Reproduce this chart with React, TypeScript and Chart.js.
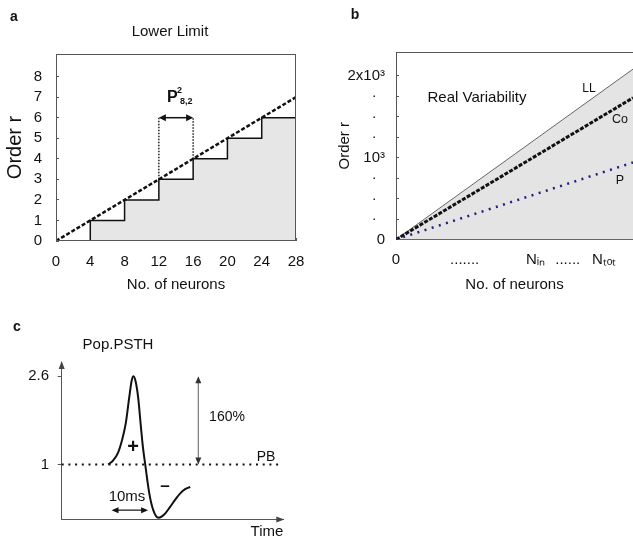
import React, { useEffect, useRef } from 'react';
import { Chart, registerables } from 'chart.js';

Chart.register(...registerables);

const FONT = "'Liberation Sans', Arial, Helvetica, sans-serif";
Chart.defaults.font.family = FONT;
Chart.defaults.color = '#111';

// ---------- Panel a : Lower Limit ----------
const aStepX = [0, 4, 8, 12, 16, 20, 24, 28];
const aStepY = [0, 1, 2, 3, 4, 5, 6, 6];
const aLimitX = [0, 28];
const aLimitY = [0, 7];
const aGuideX = [12, 16];
const aGuideFrom = [3, 4];
const aGuideTo = [6, 6];
const aArrowX = [12, 16];
const aArrowY = 6;
const aYTicks = [0, 1, 2, 3, 4, 5, 6, 7, 8];

// ---------- Panel b : Real Variability ----------
const bX = [0, 6.9];
const bLL = [0, 2080];
const bCo = [0, 1730];
const bP = [0, 940];
const bYTicks = [0, 250, 500, 750, 1000, 1250, 1500, 1750, 2000];
const bYLabels = ['0', '·  ', '·  ', '·  ', '10³', '·  ', '·  ', '·  ', '2x10³'];
const bXTicks = [0, 1, 2, 3, 4, 5, 6];
const bXLabels = ['0', '', '.......', '', ' Nᵢₙ', '......', ' Nₜₒₜ'];

// ---------- Panel c : Pop.PSTH ----------
const cTime = [12.7, 14, 15.3, 16.5, 17.5, 18.5, 19.1, 19.6, 20.2, 20.9, 21.6, 22.2, 22.8, 23.9, 25, 26.4, 28, 29.6, 31, 32.3, 33.7, 35.1];
const cPsth = [1.0, 1.07, 1.2, 1.45, 1.75, 2.25, 2.52, 2.6, 2.5, 2.2, 1.7, 1.3, 1.0, 0.48, 0.17, 0.03, 0.09, 0.23, 0.36, 0.47, 0.55, 0.59];
const cBaselineT = [0, 59.1];
const cBaselineV = [1, 1];
const cYTicks = [1, 2.6];
const cYLabels = ['1', '2.6'];
const cWidthArrowT = [13.6, 23.6];
const cWidthArrowV = 0.17;
const cAmpArrowT = 37.3;
const cAmpArrowV = [1.0, 2.6];

const pts = (xs: number[], ys: number[]) => xs.map((x, i) => ({ x, y: ys[i] }));

function text(ctx: CanvasRenderingContext2D, s: string, x: number, y: number, size: number, opts: { bold?: boolean; align?: CanvasTextAlign; color?: string } = {}) {
  ctx.font = `${opts.bold ? 'bold ' : ''}${size}px ${FONT}`;
  ctx.textAlign = opts.align || 'center';
  ctx.textBaseline = 'middle';
  ctx.fillStyle = opts.color || '#111';
  ctx.fillText(s, x, y);
}

function head(ctx: CanvasRenderingContext2D, x: number, y: number, angle: number, color: string, len = 7, half = 3) {
  ctx.save();
  ctx.translate(x, y);
  ctx.rotate(angle);
  ctx.fillStyle = color;
  ctx.beginPath();
  ctx.moveTo(0, 0);
  ctx.lineTo(-len, -half);
  ctx.lineTo(-len, half);
  ctx.closePath();
  ctx.fill();
  ctx.restore();
}

const panelAPlugin = {
  id: 'panelA',
  afterDatasetsDraw(chart: any) {
    const { ctx, chartArea: ca, scales } = chart;
    const x = scales.x, y = scales.y;
    ctx.save();
    ctx.strokeStyle = '#555';
    ctx.lineWidth = 1;
    ctx.strokeRect(ca.left + 0.5, ca.top + 0.5, ca.right - ca.left - 1, ca.bottom - ca.top - 1);
    const x1 = x.getPixelForValue(aArrowX[0]);
    const x2 = x.getPixelForValue(aArrowX[1]);
    const yy = y.getPixelForValue(aArrowY);
    ctx.strokeStyle = '#111';
    ctx.lineWidth = 1.5;
    ctx.beginPath();
    ctx.moveTo(x1 + 3, yy);
    ctx.lineTo(x2 - 3, yy);
    ctx.stroke();
    head(ctx, x1, yy, Math.PI, '#111', 7, 3.5);
    head(ctx, x2, yy, 0, '#111', 7, 3.5);
    ctx.restore();
  },
  afterDraw(chart: any) {
    const { ctx } = chart;
    ctx.save();
    text(ctx, 'a', 14, 17, 14, { bold: true });
    text(ctx, 'Lower Limit', 170, 32, 15);
    text(ctx, 'P', 167, 98, 16, { bold: true, align: 'left' });
    text(ctx, '2', 177, 91, 9, { bold: true, align: 'left' });
    text(ctx, '8,2', 180, 102, 9, { bold: true, align: 'left' });
    ctx.restore();
  },
};

const panelBPlugin = {
  id: 'panelB',
  afterDatasetsDraw(chart: any) {
    const { ctx, chartArea: ca } = chart;
    ctx.save();
    ctx.strokeStyle = '#555';
    ctx.lineWidth = 1;
    ctx.beginPath();
    ctx.moveTo(ca.left, ca.top + 0.5);
    ctx.lineTo(ca.right, ca.top + 0.5);
    ctx.stroke();
    ctx.restore();
  },
  afterDraw(chart: any) {
    const { ctx } = chart;
    ctx.save();
    text(ctx, 'b', 35, 15, 14, { bold: true });
    text(ctx, 'Real Variability', 157, 98, 15);
    text(ctx, 'LL', 269, 89, 12);
    text(ctx, 'Co', 300, 120, 12.5);
    text(ctx, 'P', 300, 181, 12.5);
    ctx.restore();
  },
};

const panelCPlugin = {
  id: 'panelC',
  afterDatasetsDraw(chart: any) {
    const { ctx, chartArea: ca, scales } = chart;
    const x = scales.x, y = scales.y;
    ctx.save();
    head(ctx, ca.left, ca.top - 1, -Math.PI / 2, '#444', 8, 3);
    head(ctx, ca.right + 1, ca.bottom, 0, '#444', 8, 3);
    // 10 ms arrow
    const t1 = x.getPixelForValue(cWidthArrowT[0]);
    const t2 = x.getPixelForValue(cWidthArrowT[1]);
    const wy = y.getPixelForValue(cWidthArrowV);
    ctx.strokeStyle = '#111';
    ctx.lineWidth = 1.2;
    ctx.beginPath();
    ctx.moveTo(t1 + 3, wy);
    ctx.lineTo(t2 - 3, wy);
    ctx.stroke();
    head(ctx, t1, wy, Math.PI, '#111', 7, 3);
    head(ctx, t2, wy, 0, '#111', 7, 3);
    // amplitude arrow
    const ax = x.getPixelForValue(cAmpArrowT);
    const ay1 = y.getPixelForValue(cAmpArrowV[0]);
    const ay2 = y.getPixelForValue(cAmpArrowV[1]);
    ctx.strokeStyle = '#777';
    ctx.beginPath();
    ctx.moveTo(ax, ay1 - 3);
    ctx.lineTo(ax, ay2 + 3);
    ctx.stroke();
    head(ctx, ax, ay1, Math.PI / 2, '#333', 7, 3);
    head(ctx, ax, ay2, -Math.PI / 2, '#333', 7, 3);
    ctx.restore();
  },
  afterDraw(chart: any) {
    const { ctx } = chart;
    ctx.save();
    text(ctx, 'c', 17, 27, 14, { bold: true });
    text(ctx, 'Pop.PSTH', 118, 45, 15);
    text(ctx, '+', 133, 147, 20, { bold: true });
    text(ctx, '–', 165, 186, 17, { bold: true });
    text(ctx, '10ms', 127, 197, 15);
    text(ctx, '160%', 227, 117, 14);
    text(ctx, 'PB', 266, 157, 14);
    ctx.restore();
  },
};

const configA = (): any => ({
  type: 'line',
  data: {
    datasets: [
      { label: 'Lower limit', data: pts(aLimitX, aLimitY), borderColor: '#111', borderWidth: 2.5, borderDash: [4, 2], pointRadius: 0, fill: false, order: 0 },
      { label: 'Guide 1', data: pts([aGuideX[0], aGuideX[0]], [aGuideFrom[0], aGuideTo[0]]), borderColor: '#222', borderWidth: 1.5, borderDash: [1.5, 1.5], pointRadius: 0, fill: false, order: 1 },
      { label: 'Guide 2', data: pts([aGuideX[1], aGuideX[1]], [aGuideFrom[1], aGuideTo[1]]), borderColor: '#222', borderWidth: 1.5, borderDash: [1.5, 1.5], pointRadius: 0, fill: false, order: 1 },
      { label: 'Steps', data: pts(aStepX, aStepY), stepped: 'before', borderColor: '#111', borderWidth: 1.5, pointRadius: 0, fill: 'origin', backgroundColor: '#e6e6e6', order: 3 },
    ],
  },
  options: {
    responsive: false,
    animation: false,
    layout: { padding: { top: 54, right: 24, left: 0, bottom: 0 } },
    plugins: { legend: { display: false }, tooltip: { enabled: false } },
    scales: {
      x: {
        type: 'linear', min: 0, max: 28,
        ticks: { stepSize: 4, color: '#111', font: { size: 15 }, padding: 14.6 },
        grid: { drawOnChartArea: false, tickLength: -3, color: '#555' },
        border: { display: false },
        title: { display: true, text: 'No. of neurons', color: '#111', font: { size: 15 }, padding: { top: 0, bottom: 6 } },
        afterFit: (s: any) => { s.height = 59; },
      },
      y: {
        type: 'linear', min: 0, max: 9.1,
        afterBuildTicks: (s: any) => { s.ticks = aYTicks.map((v) => ({ value: v })); },
        ticks: { color: '#111', font: { size: 15 }, padding: 17 },
        grid: { drawOnChartArea: false, tickLength: -3, color: '#555' },
        border: { display: false },
        title: { display: true, text: 'Order r', color: '#111', font: { size: 20 }, padding: { top: 3, bottom: 0 } },
        afterFit: (s: any) => { s.width = 56; },
      },
    },
  },
  plugins: [panelAPlugin],
});

const configB = (): any => ({
  type: 'line',
  data: {
    datasets: [
      { label: 'P', data: pts(bX, bP), borderColor: '#1f1f80', borderWidth: 2.5, borderDash: [2, 5.5], pointRadius: 0, fill: false, order: 0 },
      { label: 'Co', data: pts(bX, bCo), borderColor: '#111', borderWidth: 3, borderDash: [4, 1.5], pointRadius: 0, fill: false, order: 1 },
      { label: 'LL', data: pts(bX, bLL), borderColor: '#666', borderWidth: 1, pointRadius: 0, fill: 'origin', backgroundColor: '#e4e4e4', order: 2 },
    ],
  },
  options: {
    responsive: false,
    animation: false,
    layout: { padding: { top: 52, right: 0, left: 0, bottom: 0 } },
    plugins: { legend: { display: false }, tooltip: { enabled: false } },
    scales: {
      x: {
        type: 'linear', min: 0, max: 6.9,
        afterBuildTicks: (s: any) => { s.ticks = bXTicks.map((v) => ({ value: v })); },
        ticks: { color: '#111', font: { size: 15 }, padding: 14.6, maxRotation: 0, autoSkip: false, callback: (_v: any, i: number) => bXLabels[i] },
        grid: { drawOnChartArea: false, tickLength: -3, color: '#555' },
        border: { display: true, color: '#555' },
        title: { display: true, text: 'No. of neurons', color: '#111', font: { size: 15 }, padding: { top: 0, bottom: 6 } },
        afterFit: (s: any) => { s.height = 60.5; },
      },
      y: {
        type: 'linear', min: 0, max: 2289,
        afterBuildTicks: (s: any) => { s.ticks = bYTicks.map((v) => ({ value: v })); },
        ticks: { color: '#111', font: { size: 15 }, padding: 14, autoSkip: false, callback: (_v: any, i: number) => bYLabels[i] },
        grid: { drawOnChartArea: false, tickLength: -3, color: '#555' },
        border: { display: true, color: '#555' },
        title: { display: true, text: 'Order r', color: '#111', font: { size: 15 }, padding: { top: 16, bottom: 0 } },
        afterFit: (s: any) => { s.width = 76; },
      },
    },
  },
  plugins: [panelBPlugin],
});

const configC = (): any => ({
  type: 'line',
  data: {
    datasets: [
      { label: 'Pop.PSTH', data: pts(cTime, cPsth), borderColor: '#111', borderWidth: 2, pointRadius: 0, fill: false, cubicInterpolationMode: 'monotone', order: 0 },
      { label: 'PB', data: pts(cBaselineT, cBaselineV), borderColor: '#111', borderWidth: 2, borderDash: [2, 4.7], pointRadius: 0, fill: false, order: 1 },
    ],
  },
  options: {
    responsive: false,
    animation: false,
    clip: false,
    layout: { padding: { top: 62, right: 36.7, left: 0, bottom: 0 } },
    plugins: { legend: { display: false }, tooltip: { enabled: false } },
    scales: {
      x: {
        type: 'linear', min: 0, max: 60.5,
        ticks: { display: false },
        grid: { display: false },
        border: { display: true, color: '#555' },
        title: { display: true, text: 'Time', align: 'end', color: '#111', font: { size: 15 }, padding: { top: 0, bottom: 3.6 } },
        afterFit: (s: any) => { s.height = 24.5; },
      },
      y: {
        type: 'linear', min: 0, max: 2.86,
        afterBuildTicks: (s: any) => { s.ticks = cYTicks.map((v) => ({ value: v })); },
        ticks: { color: '#111', font: { size: 15 }, padding: 8.7, callback: (_v: any, i: number) => cYLabels[i] },
        grid: { drawOnChartArea: false, tickLength: 4, color: '#555' },
        border: { display: true, color: '#555' },
        afterFit: (s: any) => { s.width = 61.7; },
      },
    },
  },
  plugins: [panelCPlugin],
});

function Panel({ make, left, top, width, height }: { make: () => any; left: number; top: number; width: number; height: number }) {
  const ref = useRef<HTMLCanvasElement>(null);
  useEffect(() => {
    const chart = new Chart(ref.current as HTMLCanvasElement, make());
    return () => chart.destroy();
  }, []);
  return <canvas ref={ref} width={width} height={height} style={{ position: 'absolute', left, top, width, height }} />;
}

export default function App() {
  return (
    <div style={{ position: 'absolute', left: 0, top: 0, width: 633, height: 538, overflow: 'hidden', background: '#fff' }}>
      <Panel make={configA} left={0} top={0} width={320} height={300} />
      <Panel make={configB} left={320} top={0} width={313} height={300} />
      <Panel make={configC} left={0} top={300} width={320} height={244} />
    </div>
  );
}
